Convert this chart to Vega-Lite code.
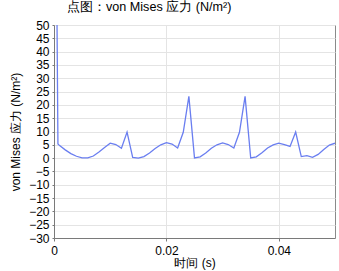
{
  "$schema": "https://vega.github.io/schema/vega-lite/v6.json",
  "width": 281,
  "height": 213,
  "autosize": {"type": "none"},
  "padding": {"left": 54, "top": 25, "right": 4, "bottom": 33},
  "background": "white",
  "title": {
    "text": "点图：von Mises 应力 (N/m²)",
    "anchor": "start",
    "frame": "group",
    "dx": 13,
    "offset": 5,
    "fontSize": 12.6,
    "fontWeight": "normal",
    "font": "Liberation Sans",
    "color": "#000000"
  },
  "config": {
    "view": {"stroke": "#8a8a8a", "strokeWidth": 1},
    "axis": {
      "labelFont": "Liberation Sans",
      "titleFont": "Liberation Sans",
      "labelFontSize": 12,
      "titleFontSize": 12,
      "titleFontWeight": "normal",
      "labelColor": "#000000",
      "titleColor": "#000000",
      "domainColor": "#7a7a7a",
      "tickColor": "#7a7a7a",
      "gridColor": "#e4e4e4",
      "gridWidth": 1
    }
  },
  "data": {
    "values": [
      {"t": 0.0, "v": 200},
      {"t": 0.0007, "v": 5.3},
      {"t": 0.001, "v": 4.7},
      {"t": 0.002, "v": 3.1},
      {"t": 0.003, "v": 1.7},
      {"t": 0.004, "v": 0.7},
      {"t": 0.005, "v": 0.1},
      {"t": 0.006, "v": 0.1},
      {"t": 0.007, "v": 0.8},
      {"t": 0.008, "v": 2.3},
      {"t": 0.009, "v": 4.0},
      {"t": 0.010, "v": 5.6},
      {"t": 0.011, "v": 5.1},
      {"t": 0.012, "v": 3.7},
      {"t": 0.013, "v": 9.8},
      {"t": 0.014, "v": 0.3},
      {"t": 0.015, "v": 0.0},
      {"t": 0.016, "v": 0.6},
      {"t": 0.017, "v": 1.9},
      {"t": 0.018, "v": 3.6},
      {"t": 0.019, "v": 5.0},
      {"t": 0.020, "v": 5.8},
      {"t": 0.021, "v": 5.3},
      {"t": 0.022, "v": 3.8},
      {"t": 0.023, "v": 9.7},
      {"t": 0.024, "v": 23.2},
      {"t": 0.025, "v": 0.1},
      {"t": 0.026, "v": 0.5},
      {"t": 0.027, "v": 1.9},
      {"t": 0.028, "v": 3.7},
      {"t": 0.029, "v": 5.0},
      {"t": 0.030, "v": 5.7},
      {"t": 0.031, "v": 5.1},
      {"t": 0.032, "v": 3.8},
      {"t": 0.033, "v": 9.7},
      {"t": 0.034, "v": 23.2},
      {"t": 0.035, "v": 0.1},
      {"t": 0.036, "v": 0.5},
      {"t": 0.037, "v": 2.0},
      {"t": 0.038, "v": 3.8},
      {"t": 0.039, "v": 5.0},
      {"t": 0.040, "v": 5.6},
      {"t": 0.041, "v": 5.1},
      {"t": 0.042, "v": 4.4},
      {"t": 0.043, "v": 9.8},
      {"t": 0.044, "v": 0.6},
      {"t": 0.045, "v": 0.9},
      {"t": 0.046, "v": 0.3},
      {"t": 0.047, "v": 1.4},
      {"t": 0.048, "v": 3.2},
      {"t": 0.049, "v": 4.9},
      {"t": 0.050, "v": 5.6}
    ]
  },
  "mark": {"type": "line", "color": "#6a7ef0", "strokeWidth": 1.3, "clip": true},
  "encoding": {
    "x": {
      "field": "t",
      "type": "quantitative",
      "scale": {"domain": [0, 0.05], "nice": false, "zero": false},
      "axis": {
        "values": [0, 0.02, 0.04],
        "format": "~g",
        "title": "时间 (s)",
        "tickSize": 3,
        "labelPadding": 4,
        "titlePadding": 1,
        "grid": true,
        "labelFlush": false
      }
    },
    "y": {
      "field": "v",
      "type": "quantitative",
      "scale": {"domain": [-30, 50], "nice": false, "zero": false},
      "axis": {
        "values": [-30, -25, -20, -15, -10, -5, 0, 5, 10, 15, 20, 25, 30, 35, 40, 45, 50],
        "title": "von Mises 应力 (N/m²)",
        "tickSize": 2,
        "labelPadding": 3,
        "titlePadding": 6,
        "grid": true
      }
    }
  }
}
